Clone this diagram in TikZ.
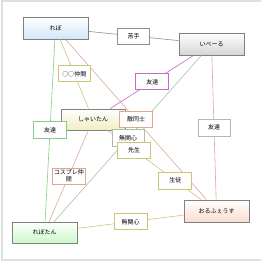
\documentclass[tikz,border=0pt]{standalone}
\usepackage{fontspec}
\setmainfont{Noto Sans CJK JP}
\usetikzlibrary{calc}
\definecolor{frame}{HTML}{DDE1DD}
\definecolor{boxline}{HTML}{808080}
\definecolor{olive}{HTML}{CCC478}
\definecolor{salmon}{HTML}{E0A696}
\definecolor{grn}{HTML}{88CC88}
\definecolor{mag}{HTML}{C868C8}
\definecolor{ggray}{HTML}{A8C0A8}
\definecolor{lgray}{HTML}{909090}
\definecolor{cblue}{HTML}{D2E6FA}
\definecolor{cgray}{HTML}{D4D6D4}
\definecolor{cyellow}{HTML}{F2EEC4}
\definecolor{cgreen}{HTML}{C8FAC8}
\definecolor{cpink}{HTML}{FCDCD0}
\tikzset{
  x=1pt, y=-1pt,
  every node/.style={font=\fontsize{6}{7}\selectfont, inner sep=0pt},
  mainbox/.style={draw=boxline, line width=0.9pt, minimum width=65pt, minimum height=22pt, top color=white},
  lab/.style={draw=#1, fill=white, line width=0.9pt, minimum width=33pt, minimum height=16pt, align=center},
  conn/.style={draw=#1, line width=0.6pt},
}
\begin{document}
\begin{tikzpicture}
\useasboundingbox (0,0) rectangle (260,262);
\draw[frame, line width=2pt] (262,1.5) -- (1.5,1.5) -- (1.5,259.5) -- (262,259.5);
% main nodes
\node[mainbox, bottom color=cblue] (rebo) at (55.5,28) {れぼ};
\node[mainbox, top color=white, bottom color=cgray] (ibe) at (211.5,44) {いべーる};
\node[mainbox, minimum width=64pt, minimum height=21pt, top color=white, bottom color=cyellow] (shai) at (93,119.5) {しゃいたん};
\node[mainbox, minimum height=21pt, bottom color=cgreen] (rebotan) at (44.5,232.5) {れぼたん};
\node[mainbox, bottom color=cpink] (orf) at (216.5,211) {おるふぇうす};
% connectors
\draw[conn=lgray] (rebo) -- (ibe);
\draw[conn=olive] (rebo) -- (shai);
\draw[conn=salmon] (rebo) -- (orf);
\draw[conn=grn] (rebo) -- (rebotan);
\draw[conn=mag] (ibe) -- (shai);
\draw[conn=ggray] (ibe) -- (rebotan);
\draw[conn=salmon] (ibe) -- (orf);
\draw[conn=olive] (shai) -- (orf);
\draw[conn=salmon] (shai) -- (rebotan);
\draw[conn=olive] (rebotan) -- (orf);
% labels
\node[lab=lgray, minimum width=32pt] (nigate) at ($(rebo)!.5!(ibe)$) {苦手};
\node[lab=olive, minimum width=32pt] (naka) at ($(rebo)!.5!(shai)$) {○○仲間};
\node[lab=mag] (tomo1) at ($(ibe)!.5!(shai)$) {友達};
\node[lab=grn, minimum height=17pt] (tomo2) at ($(rebo)!.5!(rebotan)$) {友達};
\node[lab=ggray, minimum width=32pt, minimum height=17pt] (tomo3) at ($(ibe)!.5!(orf)$) {友達};
\node[lab=ggray, minimum width=32pt, minimum height=17pt] (mukan1) at ($(ibe)!.5!(rebotan)$) {無関心};
\node[lab=salmon] (teki) at ($(rebo)!.5!(orf)$) {敵同士};
\node[lab=olive] (sensei) at ($(shai)!.333!(orf)$) {先生};
\node[lab=olive, minimum height=17pt] (seito) at ($(shai)!.667!(orf)$) {生徒};
\node[lab=salmon] (cos) at ($(shai)!.5!(rebotan)$) {コスプレ仲\\間};
\node[lab=olive] (mukan2) at ($(rebotan)!.5!(orf)$) {無関心};
\end{tikzpicture}
\end{document}
